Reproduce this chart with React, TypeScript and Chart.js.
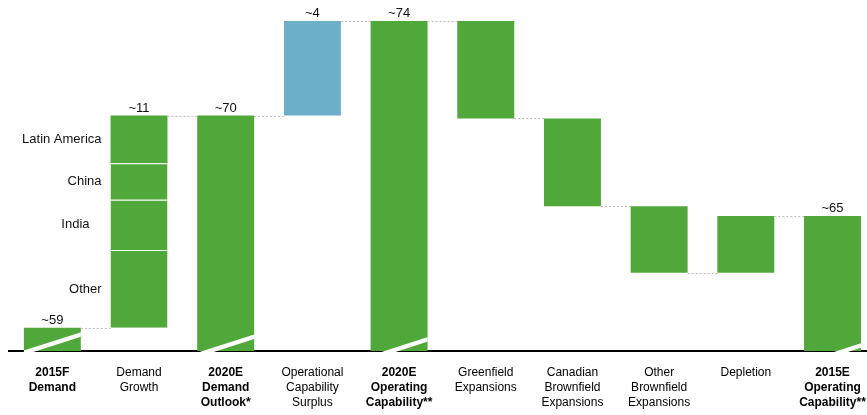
import React, { useEffect, useRef } from "react";
import { Chart, registerables } from "chart.js";

Chart.register(...registerables);

// ---- data ----
const categories: string[][] = [
  ["2015F", "Demand"],
  ["Demand", "Growth"],
  ["2020E", "Demand", "Outlook*"],
  ["Operational", "Capability", "Surplus"],
  ["2020E", "Operating", "Capability**"],
  ["Greenfield", "Expansions"],
  ["Canadian", "Brownfield", "Expansions"],
  ["Other", "Brownfield", "Expansions"],
  ["Depletion"],
  ["2015E", "Operating", "Capability**"],
];
const boldCategory = [true, false, true, false, true, false, false, false, false, true];

const axisMin = 57.8;
const axisMax = 74.9;

// floating bars [low, high]; index 1 is the split demand-growth bar
const barLow: (number | null)[] = [57.8, null, 57.8, 70, 57.8, 69.85, 65.3, 61.85, 61.85, 57.8];
const barHigh: (number | null)[] = [59, null, 70, 74.9, 74.9, 74.9, 69.85, 65.3, 64.8, 64.8];
const barKind = ["total", "split", "total", "surplus", "total", "change", "change", "change", "change", "total"];
const valueLabels = ["~59", "~11", "~70", "~4", "~74", "", "", "", "", "~65"];

const growthBase = 59;
const regionNames = ["Other", "India", "China", "Latin America"];
const regionValues = [4.03, 2.61, 1.89, 2.47];

// ---- style ----
const GREEN = "#50A83A";
const BLUE = "#6BAFC9";
const FONT = "'Liberation Sans', Arial, Helvetica, sans-serif";
const BAR_PCT = 0.657;
const breakOffsets: Record<number, number> = { 0: -1.5, 2: 5.5, 4: 14, 9: 33 };

export default function App() {
  const ref = useRef<HTMLCanvasElement | null>(null);

  useEffect(() => {
    if (!ref.current) return;
    const n = categories.length;

    const mainData = categories.map((_, i) =>
      barLow[i] == null ? null : [barLow[i] as number, barHigh[i] as number]
    );
    const mainColors = barKind.map((k) => (k === "surplus" ? BLUE : GREEN));

    const regionDatasets: any[] = [];
    let cum = growthBase;
    regionNames.forEach((name, r) => {
      const lo = cum;
      const hi = cum + regionValues[r];
      cum = hi;
      regionDatasets.push({
        label: name,
        data: categories.map((_, i) => (i === 1 ? [lo, hi] : null)),
        backgroundColor: GREEN,
        borderColor: "#ffffff",
        borderWidth: r < regionNames.length - 1 ? { top: 1, bottom: 0, left: 0, right: 0 } : 0,
        borderSkipped: false,
        grouped: false,
        categoryPercentage: 1,
        barPercentage: BAR_PCT,
      });
    });
    const growthTop = cum;

    const ranges = categories.map((_, i) =>
      i === 1 ? [growthBase, growthTop] : [barLow[i] as number, barHigh[i] as number]
    );

    const overlay = {
      id: "waterfallOverlay",
      afterDatasetsDraw(chart: any) {
        const { ctx, chartArea } = chart;
        const xs = chart.scales.x;
        const ys = chart.scales.y;
        const catW = xs.getPixelForValue(1) - xs.getPixelForValue(0);
        const w = catW * BAR_PCT;
        const left = (i: number) => xs.getPixelForValue(i) - w / 2;
        const right = (i: number) => xs.getPixelForValue(i) + w / 2;

        ctx.save();
        // connectors
        ctx.strokeStyle = "#bdbdbd";
        ctx.lineWidth = 1;
        ctx.setLineDash([2, 2]);
        for (let i = 0; i < n - 1; i++) {
          const a = ranges[i];
          const b = ranges[i + 1];
          let best = a[1];
          let diff = Infinity;
          for (const av of a) {
            for (const bv of b) {
              if (Math.abs(av - bv) < diff) {
                diff = Math.abs(av - bv);
                best = av;
              }
            }
          }
          const y = Math.round(ys.getPixelForValue(best)) + 0.5;
          ctx.beginPath();
          ctx.moveTo(right(i), y);
          ctx.lineTo(left(i + 1), y);
          ctx.stroke();
        }
        ctx.setLineDash([]);

        // axis break stripes on totals (upper edge passes through (x0, bottom))
        const bottom = chartArea.bottom;
        const s = 0.32;
        const t = 4.5;
        Object.keys(breakOffsets).forEach((k) => {
          const i = Number(k);
          const l = left(i);
          const r = right(i);
          const top = ys.getPixelForValue(ranges[i][1]);
          const x0 = l + breakOffsets[i];
          ctx.save();
          ctx.beginPath();
          ctx.rect(l, top, r - l, bottom - top + 2);
          ctx.clip();
          ctx.fillStyle = "#ffffff";
          ctx.beginPath();
          const xa = x0 - 30;
          const xb = r + 2;
          const yUpA = bottom + s * 30;
          const yUpB = bottom - s * (xb - x0);
          ctx.moveTo(xa, yUpA);
          ctx.lineTo(xb, yUpB);
          ctx.lineTo(xb, yUpB + t);
          ctx.lineTo(xa, yUpA + t);
          ctx.closePath();
          ctx.fill();
          ctx.restore();
        });

        // value labels
        ctx.fillStyle = "#111111";
        ctx.font = `13px ${FONT}`;
        ctx.textAlign = "center";
        ctx.textBaseline = "alphabetic";
        valueLabels.forEach((lab, i) => {
          if (!lab) return;
          const y = ys.getPixelForValue(ranges[i][1]);
          ctx.fillText(lab, xs.getPixelForValue(i), y - 4);
        });

        // region labels
        ctx.textAlign = "right";
        ctx.textBaseline = "middle";
        let c = growthBase;
        regionNames.forEach((name, r) => {
          const lo = c;
          const hi = c + regionValues[r];
          c = hi;
          const yMid = (ys.getPixelForValue(lo) + ys.getPixelForValue(hi)) / 2;
          const xr = left(1) - 9 - (name === "India" ? 12 : 0);
          ctx.fillText(name, xr, yMid);
        });
        ctx.restore();
      },
    };

    const chart = new Chart(ref.current, {
      type: "bar",
      data: {
        labels: categories,
        datasets: [
          {
            label: "main",
            data: mainData as any,
            backgroundColor: mainColors,
            borderWidth: 0,
            grouped: false,
            categoryPercentage: 1,
            barPercentage: BAR_PCT,
          } as any,
          ...regionDatasets,
        ],
      },
      options: {
        responsive: false,
        animation: false,
        devicePixelRatio: 1,
        layout: { padding: { top: 21, left: 9, right: 3, bottom: 0 } },
        plugins: {
          legend: { display: false },
          tooltip: { enabled: false },
          title: { display: false },
        },
        scales: {
          x: {
            grid: { display: false, drawTicks: false },
            border: { display: true, color: "#000000", width: 2 },
            ticks: {
              autoSkip: false,
              maxRotation: 0,
              minRotation: 0,
              padding: 14,
              color: "#000000",
              font: (ctx: any) => ({
                family: FONT,
                size: 12,
                lineHeight: 1.25,
                weight: boldCategory[ctx.index] ? "bold" : "normal",
              }),
            },
          },
          y: {
            display: false,
            min: axisMin,
            max: axisMax,
          },
        },
      },
      plugins: [overlay],
    });

    return () => chart.destroy();
  }, []);

  return (
    <div
      style={{
        position: "fixed",
        left: 0,
        top: 0,
        width: 867,
        height: 415,
        overflow: "hidden",
        background: "#ffffff",
      }}
    >
      <canvas ref={ref} width={880} height={424} style={{ display: "block" }} />
    </div>
  );
}
